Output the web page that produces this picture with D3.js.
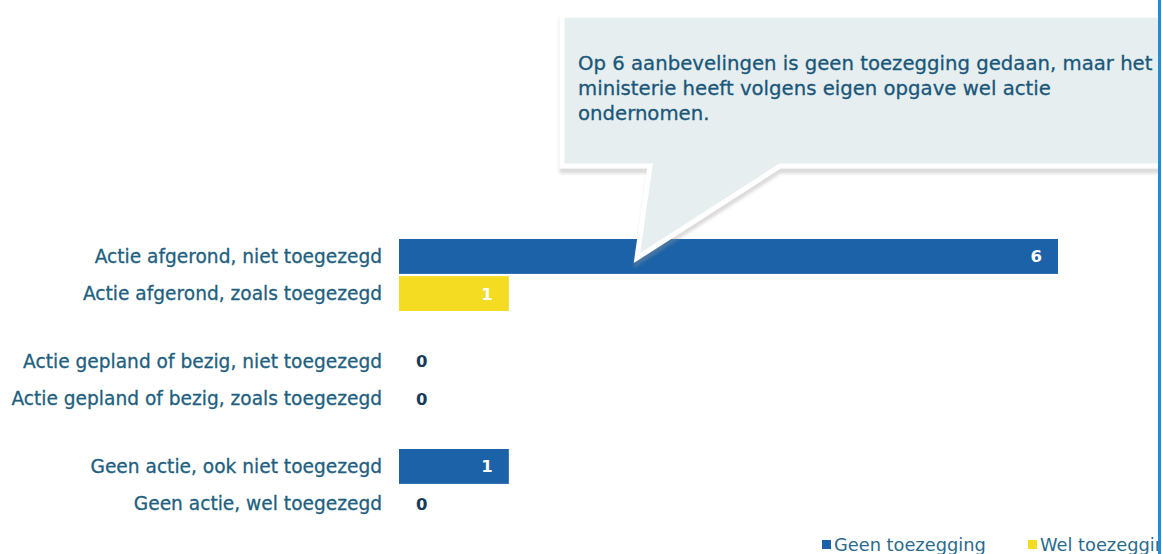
<!DOCTYPE html>
<html><head><meta charset="utf-8">
<script src="https://cdn.jsdelivr.net/npm/d3@7"></script>
<style>
html,body{margin:0;padding:0;background:#fff;overflow:hidden;}
svg{display:block;}
text{font-family:"DejaVu Sans",Verdana,sans-serif;}
</style></head>
<body>
<svg id="chart" width="1162" height="554"></svg>
<script>
// ---- data ----
const groups = ["Actie afgerond", "Actie gepland of bezig", "Geen actie"];
const categories = [
  "Actie afgerond, niet toegezegd",
  "Actie afgerond, zoals toegezegd",
  "Actie gepland of bezig, niet toegezegd",
  "Actie gepland of bezig, zoals toegezegd",
  "Geen actie, ook niet toegezegd",
  "Geen actie, wel toegezegd"
];
const categoryGroup = [0, 0, 1, 1, 2, 2];
const categorySeries = [0, 1, 0, 1, 0, 1];
const values = [6, 1, 0, 0, 1, 0];
const seriesNames = ["Geen toezegging", "Wel toezegging"];
const seriesColors = ["#1c62a8", "#f3dc22"];
const calloutLines = [
  "Op 6 aanbevelingen is geen toezegging gedaan, maar het",
  "ministerie heeft volgens eigen opgave wel actie",
  "ondernomen."
];

const svg = d3.select("#chart");

const x = d3.scaleLinear().domain([0, 6]).range([399, 1058]);
const yGroup = d3.scaleBand().domain(d3.range(groups.length)).range([239, 521]).paddingInner(33/105).paddingOuter(0);
const yInner = d3.scaleBand().domain([0, 1]).range([0, yGroup.bandwidth()]).paddingInner(0.06);
const yTop = i => yGroup(categoryGroup[i]) + yInner(categorySeries[i]);
const bh = yInner.bandwidth();

// shadow filter
const defs = svg.append("defs");
const f = defs.append("filter").attr("id", "sh").attr("x", "-5%").attr("y", "-10%").attr("width", "115%").attr("height", "130%");
f.append("feDropShadow").attr("dx", 0).attr("dy", 5).attr("stdDeviation", 1.5).attr("flood-color", "#999").attr("flood-opacity", 0.35);

// category labels
svg.append("g").selectAll("text").data(categories).join("text")
  .attr("x", 382).attr("y", (d, i) => yTop(i) + bh / 2 + 6.5)
  .attr("text-anchor", "end").attr("font-size", 18.6).attr("fill", "#1f5f80")
  .attr("stroke", "#1f5f80").attr("stroke-width", 0.3)
  .text(d => d);

// bars
const barIdx = d3.range(values.length).filter(i => values[i] > 0);
svg.append("g").selectAll("rect").data(barIdx).join("rect")
  .attr("x", x(0)).attr("y", i => yTop(i))
  .attr("width", i => x(values[i]) - x(0)).attr("height", bh)
  .attr("fill", i => seriesColors[categorySeries[i]]);

// value labels
svg.append("g").selectAll("text").data(d3.range(values.length)).join("text")
  .attr("x", i => values[i] > 0 ? x(values[i]) - 16 : x(0) + 17)
  .attr("y", i => yTop(i) + bh / 2 + 6)
  .attr("text-anchor", i => values[i] > 0 ? "end" : "start")
  .attr("font-size", 16.5).attr("font-weight", "bold")
  .attr("fill", i => values[i] > 0 ? "#ffffff" : "#163a5c")
  .text(i => values[i]);

// callout
const cb = {l: 562, t: 15, b: 166, r: 1170};
const ptr = {bl: 650, br: 780, ax: 637, ay: yTop(0) + 19};
svg.append("path")
  .attr("d", `M${cb.l},${cb.t}H${cb.r}V${cb.b}H${ptr.br}L${ptr.ax},${ptr.ay}L${ptr.bl},${cb.b}H${cb.l}Z`)
  .attr("fill", "#e6eef0").attr("stroke", "#fff").attr("stroke-width", 5).attr("stroke-linejoin", "miter")
  .attr("filter", "url(#sh)");
svg.append("g").selectAll("text").data(calloutLines).join("text")
  .attr("x", 578).attr("y", (d, i) => 70 + i * 25)
  .attr("font-size", 19.7).attr("fill", "#1a5779")
  .attr("stroke", "#1a5779").attr("stroke-width", 0.3)
  .text(d => d);

// legend
const leg = svg.append("g");
const legX = [822, 1028];
seriesNames.forEach((s, i) => {
  leg.append("rect").attr("x", legX[i]).attr("y", 540).attr("width", 9).attr("height", 9).attr("fill", seriesColors[i]);
  leg.append("text").attr("x", legX[i] + 12).attr("y", 551).attr("font-size", 17.8).attr("fill", "#2a6b8c").text(s);
});

// right border
svg.append("rect").attr("x", 1158).attr("y", 0).attr("width", 4).attr("height", 554).attr("fill", "#fff");
svg.append("rect").attr("x", 1158).attr("y", 0).attr("width", 3).attr("height", 554).attr("fill", "#1d8fd6");
</script>
</body></html>
